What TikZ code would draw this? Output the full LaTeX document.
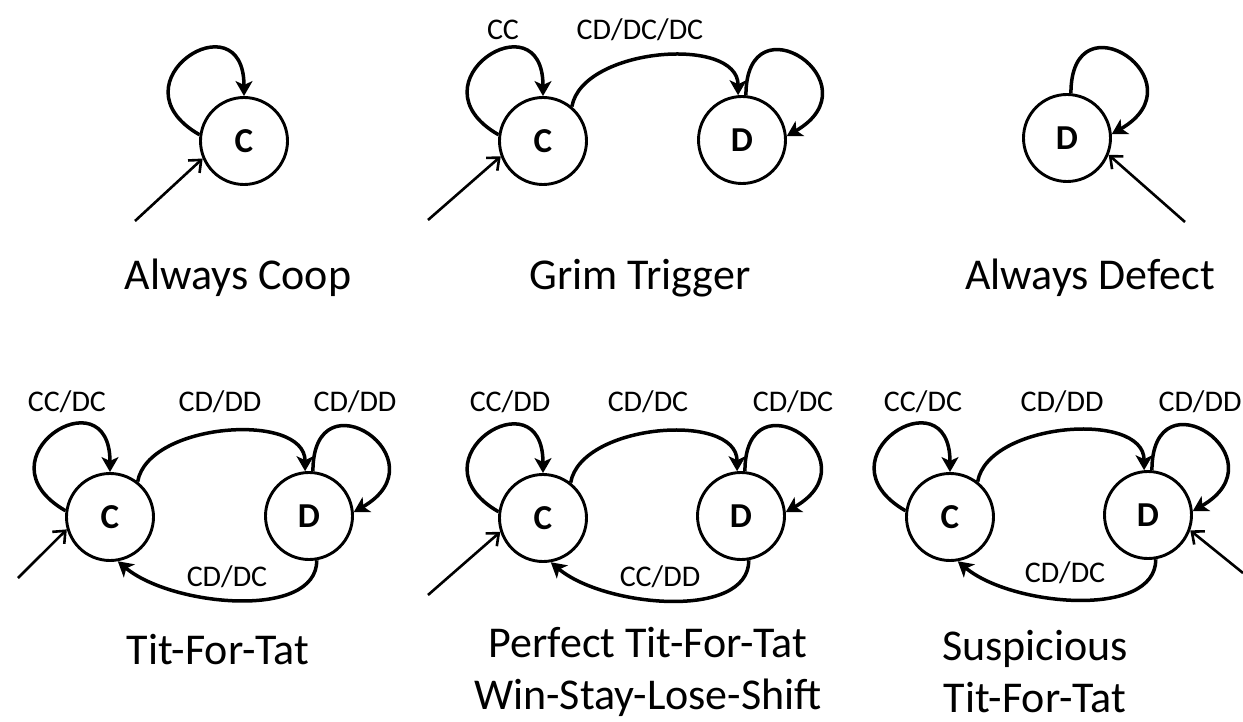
\documentclass[tikz,border=0pt]{standalone}
\usepackage{fontspec}
\setmainfont{Carlito}
\usetikzlibrary{arrows.meta}

\begin{document}
\begin{tikzpicture}[x=1pt,y=1pt,
  state/.style={circle,draw,line width=2.9pt,minimum size=87pt,inner sep=0pt,
    font=\fontsize{35}{35}\selectfont\bfseries},
  edge/.style={line width=3.5pt,-{Stealth[length=15pt,width=17pt,inset=4pt]}},
  initial/.style={line width=2.6pt,-{Straight Barb[length=10pt,width=17pt]}},
  lbl/.style={font=\fontsize{30}{30}\selectfont,inner sep=0pt},
  title/.style={font=\fontsize{44}{52}\selectfont,align=center,inner sep=0pt},
  cloop/.style={out=150,in=90,out distance=105pt,in distance=100pt},
  dloop/.style={out=90,in=30,out distance=100pt,in distance=105pt},
  over/.style={out=80,in=90,out distance=60pt,in distance=60pt},
  under/.style={out=-90,in=-40,out distance=60pt,in distance=70pt}
]
\useasboundingbox (0,0) rectangle (1243,-722);

% ---------- Always Coop ----------
\node[state] (ac) at (244,-141) {C};
\coordinate (acin) at (135,-221);
\draw[edge] (ac.172) to[cloop] (ac.north);
\draw[initial] (acin) -- (ac.203);
\node[title] (tac) at (238,-278) {Always Coop};

% ---------- Grim Trigger ----------
\node[state] (gc) at (543,-141) {C};
\node[state] (gd) at (742,-140) {D};
\coordinate (gin) at (428,-220);
\draw[edge] (gc.172) to[cloop] (gc.north);
\draw[edge] (gc.50) to[over] (gd.95);
\draw[edge] (gd.85) to[dloop] (gd.5);
\draw[initial] (gin) -- (gc.200);
\node[lbl] (lgcc) at (503,-30) {CC};
\node[lbl] (lgcd) at (640,-30) {CD/DC/DC};
\node[title] (tgt) at (640,-278) {Grim Trigger};

% ---------- Always Defect ----------
\node[state] (ad) at (1067,-138) {D};
\coordinate (adin) at (1185,-222);
\draw[edge] (ad.85) to[dloop] (ad.5);
\draw[initial] (adin) -- (ad.-22);
\node[title] (tad) at (1090,-278) {Always Defect};

% ---------- Tit-For-Tat ----------
\node[state] (tc) at (110,-517) {C};
\node[state] (td) at (309,-516) {D};
\coordinate (tin) at (18,-578);
\draw[edge] (tc.172) to[cloop] (tc.north);
\draw[edge] (tc.52) to[over] (td.95);
\draw[edge] (td.85) to[dloop] (td.5);
\draw[edge] (td.-80) to[under] (tc.-80);
\draw[initial] (tin) -- (tc.196);
\node[lbl] (ltcc) at (67,-402) {CC/DC};
\node[lbl] (ltcd) at (220,-402) {CD/DD};
\node[lbl] (ltdd) at (355,-402) {CD/DD};
\node[lbl] (ltdc) at (227,-577) {CD/DC};
\node[title] (ttft) at (218,-650) {Tit-For-Tat};

% ---------- Perfect Tit-For-Tat / Win-Stay-Lose-Shift ----------
\node[state] (pc) at (543,-518) {C};
\node[state] (pd) at (741,-516) {D};
\coordinate (pin) at (428,-595);
\draw[edge] (pc.172) to[cloop] (pc.north);
\draw[edge] (pc.52) to[over] (pd.95);
\draw[edge] (pd.85) to[dloop] (pd.5);
\draw[edge] (pd.-80) to[under] (pc.-80);
\draw[initial] (pin) -- (pc.198);
\node[lbl] (lpcc) at (510,-402) {CC/DD};
\node[lbl] (lpcd) at (648,-402) {CD/DC};
\node[lbl] (lpdd) at (793,-402) {CD/DC};
\node[lbl] (lpdc) at (660,-577) {CC/DD};
\node[title] (tptft) at (648,-672) {Perfect Tit-For-Tat\\Win-Stay-Lose-Shift};

% ---------- Suspicious Tit-For-Tat ----------
\node[state] (sc) at (950,-517) {C};
\node[state] (sd) at (1148,-515) {D};
\coordinate (sin) at (1243,-573);
\draw[edge] (sc.172) to[cloop] (sc.north);
\draw[edge] (sc.52) to[over] (sd.95);
\draw[edge] (sd.85) to[dloop] (sd.5);
\draw[edge] (sd.-80) to[under] (sc.-80);
\draw[initial] (sin) -- (sd.-20);
\node[lbl] (lscc) at (923,-402) {CC/DC};
\node[lbl] (lscd) at (1062,-402) {CD/DD};
\node[lbl] (lsdd) at (1200,-402) {CD/DD};
\node[lbl] (lsdc) at (1065,-573) {CD/DC};
\node[title] (tstft) at (1035,-672) {Suspicious\\Tit-For-Tat};
\end{tikzpicture}
\end{document}
